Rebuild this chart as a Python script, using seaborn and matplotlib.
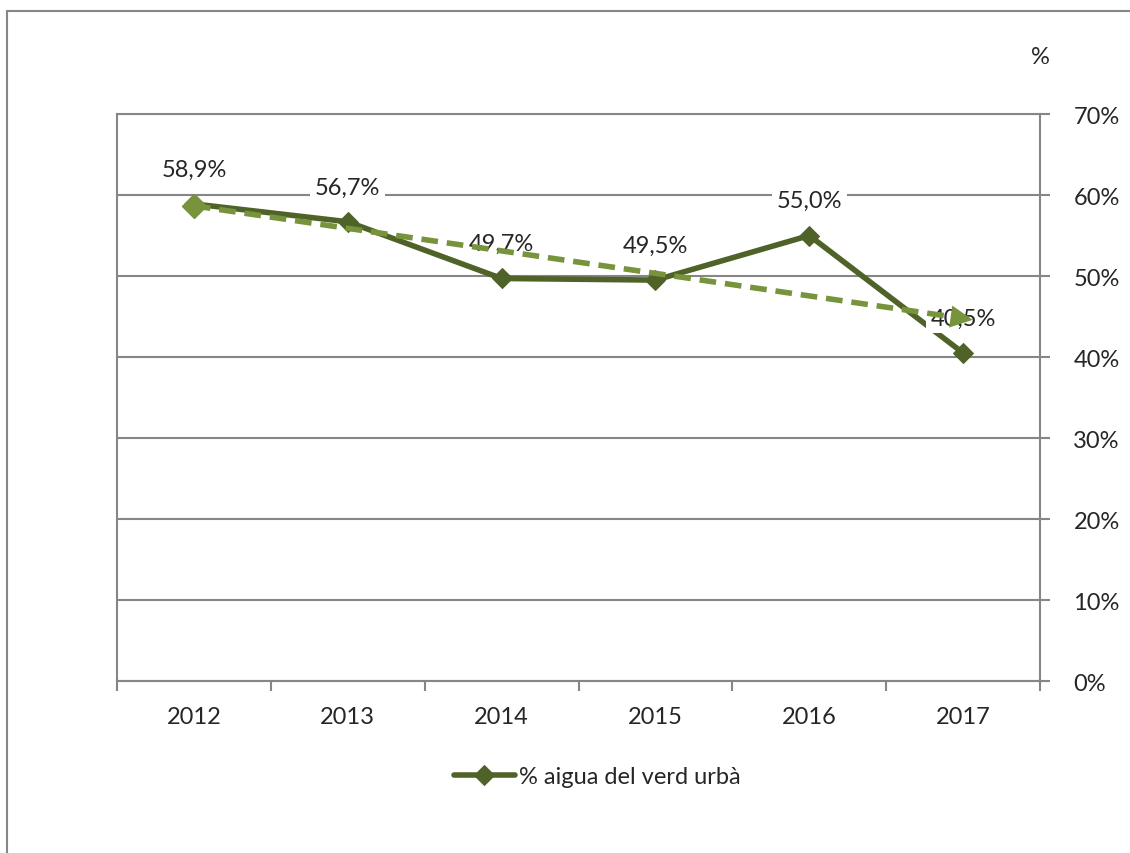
import seaborn as sns
import matplotlib.pyplot as plt
import numpy as np
import pandas as pd
from matplotlib.patches import Rectangle
from matplotlib.ticker import FuncFormatter

years = ["2012", "2013", "2014", "2015", "2016", "2017"]
pct_water = [58.9, 56.7, 49.7, 49.5, 55.0, 40.5]
series_name = "% aigua del verd urbà"

dark_green = "#4F6228"
light_green = "#77933C"
grid_grey = "#868686"

sns.set_theme(style="white")
plt.rcParams['font.family'] = ['Lato', 'DejaVu Sans']

df = pd.DataFrame({"pos": np.arange(len(years)), "value": pct_water})

fig = plt.figure(figsize=(11.3, 8.54), dpi=100)
ax = fig.add_axes([0.1035, 0.2014, 0.8169, 0.6639])

# outer chart frame
fig.patches.append(Rectangle((7 / 1130, -0.1), 1.2, (854 - 12) / 854 + 0.1,
                             transform=fig.transFigure, fill=False,
                             edgecolor=grid_grey, lw=1.5))

sns.lineplot(data=df, x="pos", y="value", ax=ax, color=dark_green, lw=4,
             marker="D", markersize=10, markeredgecolor=dark_green,
             label=series_name, zorder=3)

# data labels
for x, v in zip(df["pos"], pct_water):
    ax.annotate(f"{v:.1f}%".replace(".", ","), (x, v), xytext=(0, 25),
                textcoords="offset points", ha="center", va="center",
                fontsize=17, color="#262626", zorder=4,
                bbox=dict(boxstyle="square,pad=0.2", fc="white", ec="none"))

# linear trend line
slope, icpt = np.polyfit(df["pos"], pct_water, 1)
tx = np.array([0, len(years) - 1])
trend = pd.DataFrame({"pos": tx, "value": icpt + slope * tx})
sns.lineplot(data=trend, x="pos", y="value", ax=ax, color=light_green, lw=4,
             linestyle=(0, (3, 1.6)), zorder=5, legend=False)
ax.plot(tx[:1], trend["value"][:1], marker="D", markersize=12,
        color=light_green, zorder=5)
x_end = tx[-1]
ax.annotate("", xy=(x_end + 0.08, icpt + slope * (x_end + 0.08)),
            xytext=(x_end - 0.1, icpt + slope * (x_end - 0.1)),
            arrowprops=dict(arrowstyle="-|>", color=light_green, lw=0,
                            mutation_scale=40), zorder=6)

ax.set_xlim(-0.5, len(years) - 0.5)
ax.set_ylim(0, 70)
ax.set_yticks(np.arange(0, 71, 10))
ax.yaxis.set_major_formatter(FuncFormatter(lambda v, p: f"{int(v)}%"))
ax.yaxis.tick_right()
ax.grid(axis="y", color=grid_grey, lw=1.5)
ax.set_axisbelow(True)
ax.tick_params(axis="y", which="major", right=True, length=7, width=1.5,
               color=grid_grey, labelsize=17, labelcolor="#262626", pad=17)

ax.set_xticks(np.arange(len(years)))
ax.set_xticklabels(years)
ax.set_xticks(np.arange(-0.5, len(years)), minor=True)
ax.tick_params(axis="x", which="major", length=0, labelsize=17,
               labelcolor="#262626", pad=18)
ax.tick_params(axis="x", which="minor", bottom=True, length=7, width=1.5,
               color=grid_grey)
ax.set_xlabel("")
ax.set_ylabel("")

for side in ["left", "right", "bottom", "top"]:
    ax.spines[side].set_visible(True)
    ax.spines[side].set_color(grid_grey)
    ax.spines[side].set_linewidth(1.5)

fig.text(1040 / 1130, 1 - 57 / 854, "%", ha="center", va="center",
         fontsize=17, color="#262626")

ax.legend_.remove()
handles, labels = ax.get_legend_handles_labels()
fig.legend(handles[:1], labels[:1], loc="center", bbox_to_anchor=(597 / 1130, 1 - 778 / 854),
           frameon=False, fontsize=17, handlelength=2.6, handletextpad=0.15,
           labelcolor="#262626")

fig.savefig("out.png", dpi=100)
